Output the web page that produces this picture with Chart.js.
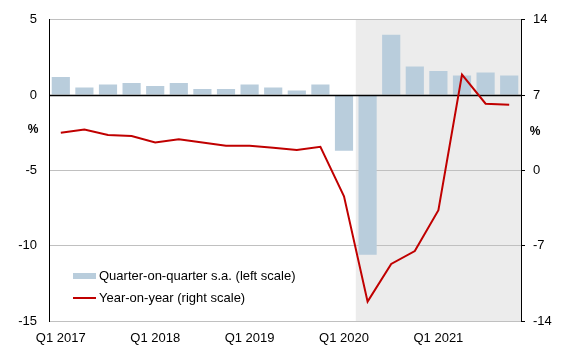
<!DOCTYPE html>
<html>
<head>
<meta charset="utf-8">
<script src="https://cdn.jsdelivr.net/npm/chart.js@4/dist/chart.umd.min.js"></script>
<style>
  html, body { margin: 0; padding: 0; background: #fff; }
  #wrap { width: 564px; height: 352px; }
</style>
</head>
<body>
<div id="wrap"><canvas id="chart" width="564" height="352"></canvas></div>
<script>
// Quartale Q1 2017 bis Q4 2021
const quarters = [
  'Q1 2017', 'Q2 2017', 'Q3 2017', 'Q4 2017',
  'Q1 2018', 'Q2 2018', 'Q3 2018', 'Q4 2018',
  'Q1 2019', 'Q2 2019', 'Q3 2019', 'Q4 2019',
  'Q1 2020', 'Q2 2020', 'Q3 2020', 'Q4 2020',
  'Q1 2021', 'Q2 2021', 'Q3 2021', 'Q4 2021'
];
// Veränderung ggü. Vorquartal (linke Skala)
const qoqValues = [1.2, 0.5, 0.7, 0.8, 0.6, 0.8, 0.4, 0.4, 0.7, 0.5, 0.3, 0.7,
                   -3.7, -10.6, 4.0, 1.9, 1.6, 1.3, 1.5, 1.3];
// Veränderung ggü. Vorjahr (rechte Skala)
const yoyValues = [3.5, 3.8, 3.3, 3.2, 2.6, 2.9, 2.6, 2.3, 2.3, 2.1, 1.9, 2.2,
                   -2.4, -12.2, -8.7, -7.5, -3.7, 8.9, 6.2, 6.1];
const leftTicks = [-15, -10, -5, 0, 5];
const rightTicks = [-14, -7, 0, 7, 14];
const shadeFromIndex = 13; // grauer Bereich ab Q2 2020

const FONT = "'Liberation Sans', Arial, sans-serif";
Chart.defaults.font.family = FONT;
Chart.defaults.font.size = 13;
Chart.defaults.color = '#000';

// Hintergrund-Schattierung
const shadePlugin = {
  id: 'shade',
  beforeDraw(chart) {
    const x = chart.scales.x, a = chart.chartArea, ctx = chart.ctx;
    const half = (x.getPixelForValue(1) - x.getPixelForValue(0)) / 2;
    const start = x.getPixelForValue(shadeFromIndex) - half;
    ctx.save();
    ctx.fillStyle = '#ececec';
    ctx.fillRect(start, a.top, a.right - start, a.bottom - a.top);
    ctx.restore();
  }
};

// Nulllinie über den Balken, Legende und %-Beschriftung
const extrasPlugin = {
  id: 'extras',
  afterDatasetDraw(chart, args) {
    if (args.index !== 0) return;
    const y = chart.scales.y, a = chart.chartArea, ctx = chart.ctx;
    const y0 = Math.round(y.getPixelForValue(0)) + 0.5;
    ctx.save();
    ctx.strokeStyle = '#000';
    ctx.lineWidth = 1.5;
    ctx.beginPath();
    ctx.moveTo(a.left, y0);
    ctx.lineTo(a.right, y0);
    ctx.stroke();
    ctx.restore();
  },
  afterDraw(chart) {
    const ctx = chart.ctx;
    const ds = chart.data.datasets;
    ctx.save();
    // Legende
    ctx.fillStyle = ds[0].backgroundColor;
    ctx.fillRect(73, 273, 23, 6);
    ctx.strokeStyle = ds[1].borderColor;
    ctx.lineWidth = 2;
    ctx.beginPath();
    ctx.moveTo(73, 298);
    ctx.lineTo(96, 298);
    ctx.stroke();
    ctx.fillStyle = '#000';
    ctx.font = '13px ' + FONT;
    ctx.textBaseline = 'middle';
    ctx.textAlign = 'left';
    ctx.fillText(ds[0].label, 99, 276);
    ctx.fillText(ds[1].label, 99, 298);
    // %-Zeichen
    ctx.font = 'bold 12px ' + FONT;
    ctx.textAlign = 'center';
    ctx.fillText('%', 33, 130);
    ctx.fillText('%', 535, 132);
    ctx.restore();
  }
};

new Chart(document.getElementById('chart'), {
  type: 'bar',
  data: {
    labels: quarters,
    datasets: [{
      type: 'bar',
      label: 'Quarter-on-quarter s.a. (left scale)',
      data: qoqValues,
      backgroundColor: '#b9cddc',
      barPercentage: 0.77,
      categoryPercentage: 1,
      yAxisID: 'y',
      order: 2
    }, {
      type: 'line',
      label: 'Year-on-year (right scale)',
      data: yoyValues,
      borderColor: '#c00000',
      borderWidth: 2,
      pointRadius: 0,
      tension: 0,
      fill: false,
      yAxisID: 'y2',
      order: 1
    }]
  },
  options: {
    responsive: false,
    animation: false,
    layout: { padding: { top: 19, left: 0, right: 0, bottom: 0 } },
    plugins: {
      legend: { display: false },
      tooltip: { enabled: false }
    },
    scales: {
      x: {
        offset: true,
        grid: { display: false, drawTicks: false },
        border: { display: false },
        ticks: {
          autoSkip: false,
          maxRotation: 0,
          padding: 10,
          callback: (v, i) => (i % 4 === 0 ? quarters[i] : '')
        },
        afterFit: s => { s.height = 31; }
      },
      y: {
        position: 'left',
        min: -15,
        max: 5,
        afterBuildTicks: s => { s.ticks = leftTicks.map(v => ({ value: v })); },
        grid: {
          color: '#c0c0c0',
          lineWidth: 1,
          drawTicks: false
        },
        border: { display: true, color: '#000', width: 1 },
        ticks: { padding: 12 },
        afterFit: s => { s.width = 49; }
      },
      y2: {
        position: 'right',
        min: -14,
        max: 14,
        afterBuildTicks: s => { s.ticks = rightTicks.map(v => ({ value: v })); },
        grid: {
          drawOnChartArea: false,
          drawTicks: true,
          tickLength: 4,
          color: '#000'
        },
        border: { display: true, color: '#000', width: 1 },
        ticks: { padding: 8 },
        afterFit: s => { s.width = 43; }
      }
    }
  },
  plugins: [shadePlugin, extrasPlugin]
});
</script>
</body>
</html>
